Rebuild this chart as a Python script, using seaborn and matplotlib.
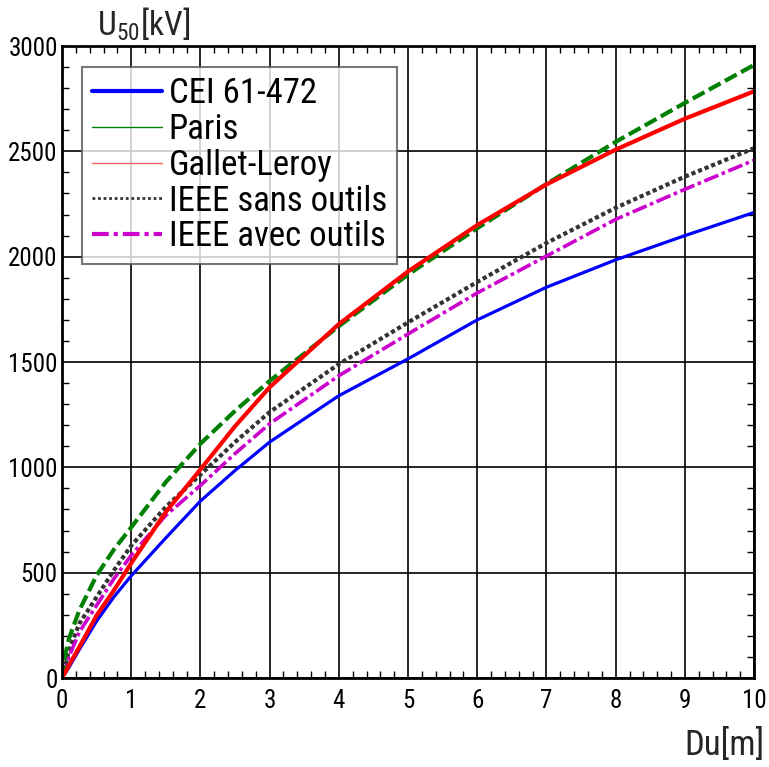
"""Tension de tenue U50 en fonction de la distance Du pour plusieurs modèles."""

import matplotlib
matplotlib.use("Agg")
import matplotlib.pyplot as plt
from matplotlib import font_manager as fm
from matplotlib.lines import Line2D
from matplotlib.ticker import MultipleLocator
import seaborn as sns

# Data
du = [0, 0.05, 0.1, 0.25, 0.5, 0.75, 1, 1.5, 2, 2.5, 3, 4, 5, 6, 7, 8, 9, 10]
cei = [0, 25, 50, 135, 270, 385, 485, 665, 840, 985, 1120, 1340, 1515, 1700, 1855, 1985, 2100, 2210]
paris = [0, 115, 187, 321, 487, 610, 715, 930, 1112, 1268, 1410, 1670, 1915, 2135, 2345, 2545, 2730, 2910]
gallet = [0, 28, 60, 147, 297, 416, 545, 788, 990, 1195, 1380, 1680, 1930, 2150, 2343, 2508, 2655, 2785]
ieee_sans = [0, 60, 130, 258, 384, 511, 628, 812, 965, 1120, 1262, 1490, 1688, 1880, 2065, 2232, 2380, 2515]
ieee_avec = [0, 45, 100, 218, 345, 471, 582, 772, 914, 1065, 1207, 1435, 1633, 1828, 2003, 2177, 2320, 2458]

labels = ["CEI 61-472", "Paris", "Gallet-Leroy", "IEEE sans outils", "IEEE avec outils"]


def find_narrow_font():
    """Look for a condensed sans font (the original uses an Arial Narrow look)."""
    prefs = ["Liberation Sans Narrow", "Arial Narrow", "Roboto Condensed",
             "Open Sans Condensed", "Noto Sans", "Open Sans", "DejaVu Sans", "Roboto"]
    found = []
    for f in fm.fontManager.ttflist:
        path = f.fname.lower()
        if f.style != "normal" or "mono" in path or "cjk" in path:
            continue
        if "serif" in path and "sans" not in path:
            continue
        if f.weight not in (400, "normal", "regular", "book"):
            continue
        narrow = ("narrow" in path or "condensed" in path
                  or str(f.stretch) in ("condensed", "semi-condensed", "extra-condensed"))
        if narrow:
            found.append(f)
    if not found:
        return None
    found.sort(key=lambda f: prefs.index(f.name) if f.name in prefs else len(prefs))
    return found[0]


def main() -> None:
    sns.set_theme(style="white")
    narrow = find_narrow_font()
    if narrow is not None:
        plt.rcParams["font.family"] = [narrow.name, "Liberation Sans", "DejaVu Sans"]
        plt.rcParams["font.stretch"] = narrow.stretch
        scale = 1.0
    else:
        plt.rcParams["font.family"] = ["Liberation Sans", "DejaVu Sans"]
        scale = 0.88
    plt.rcParams["mathtext.default"] = "regular"

    fig = plt.figure(figsize=(7.69, 7.67), dpi=100)
    ax = fig.add_axes([0.0806, 0.116, 0.9, 0.824])

    sns.lineplot(x=du, y=cei, color="#0000ff", lw=2.3, ax=ax)
    sns.lineplot(x=du, y=ieee_sans, color="#333333", lw=3, linestyle=(0, (1, 0.7)), ax=ax)
    sns.lineplot(x=du, y=ieee_avec, color="#cc00cc", lw=2.6,
                 linestyle=(0, (4.2, 1, 1, 1)), ax=ax)
    sns.lineplot(x=du, y=paris, color="#008000", lw=3, linestyle=(0, (3.2, 1.2)), ax=ax)
    sns.lineplot(x=du, y=gallet, color="#ff0000", lw=3, ax=ax)

    ax.set_xlim(0, 10)
    ax.set_ylim(0, 3000)
    ax.xaxis.set_major_locator(MultipleLocator(1))
    ax.xaxis.set_minor_locator(MultipleLocator(0.2))
    ax.yaxis.set_major_locator(MultipleLocator(500))
    ax.yaxis.set_minor_locator(MultipleLocator(100))
    ax.grid(True, which="major", color="black", lw=1.2)
    ax.tick_params(which="both", direction="in", top=True, right=True,
                   bottom=True, left=True, color="black")
    ax.tick_params(which="major", length=0, labelsize=18 * scale, labelcolor="black")
    ax.tick_params(axis="x", which="major", pad=8)
    ax.tick_params(axis="y", which="major", pad=3)
    ax.tick_params(which="minor", length=5, width=1)
    for sp in ax.spines.values():
        sp.set_color("black")
        sp.set_linewidth(2)
    ax.set_xlabel("")
    ax.set_ylabel("")

    fig.text(0.126, 0.954, "U$_{50}$[kV]", fontsize=24 * scale, ha="left", va="baseline")
    fig.text(0.994, 0.016, "Du[m]", fontsize=25 * scale, ha="right", va="baseline")

    handles = [
        Line2D([0], [0], color="#0000ff", lw=3),
        Line2D([0], [0], color="#008000", lw=1),
        Line2D([0], [0], color="#ff6060", lw=1),
        Line2D([0], [0], color="#333333", lw=2, linestyle=(0, (1, 1))),
        Line2D([0], [0], color="#cc00cc", lw=3, linestyle=(0, (4, 1.2, 1, 1.2))),
    ]
    leg = ax.legend(handles, labels, loc="upper left", bbox_to_anchor=(0.0285, 0.967),
                    borderaxespad=0, fontsize=25 * scale, handlelength=2.0, handletextpad=0.2,
                    labelspacing=0.08, borderpad=0.3, frameon=True, fancybox=False,
                    labelcolor="black")
    leg.get_frame().set_edgecolor("#555555")
    leg.get_frame().set_linewidth(1.5)

    fig.savefig("out.png", dpi=100)


if __name__ == "__main__":
    main()
